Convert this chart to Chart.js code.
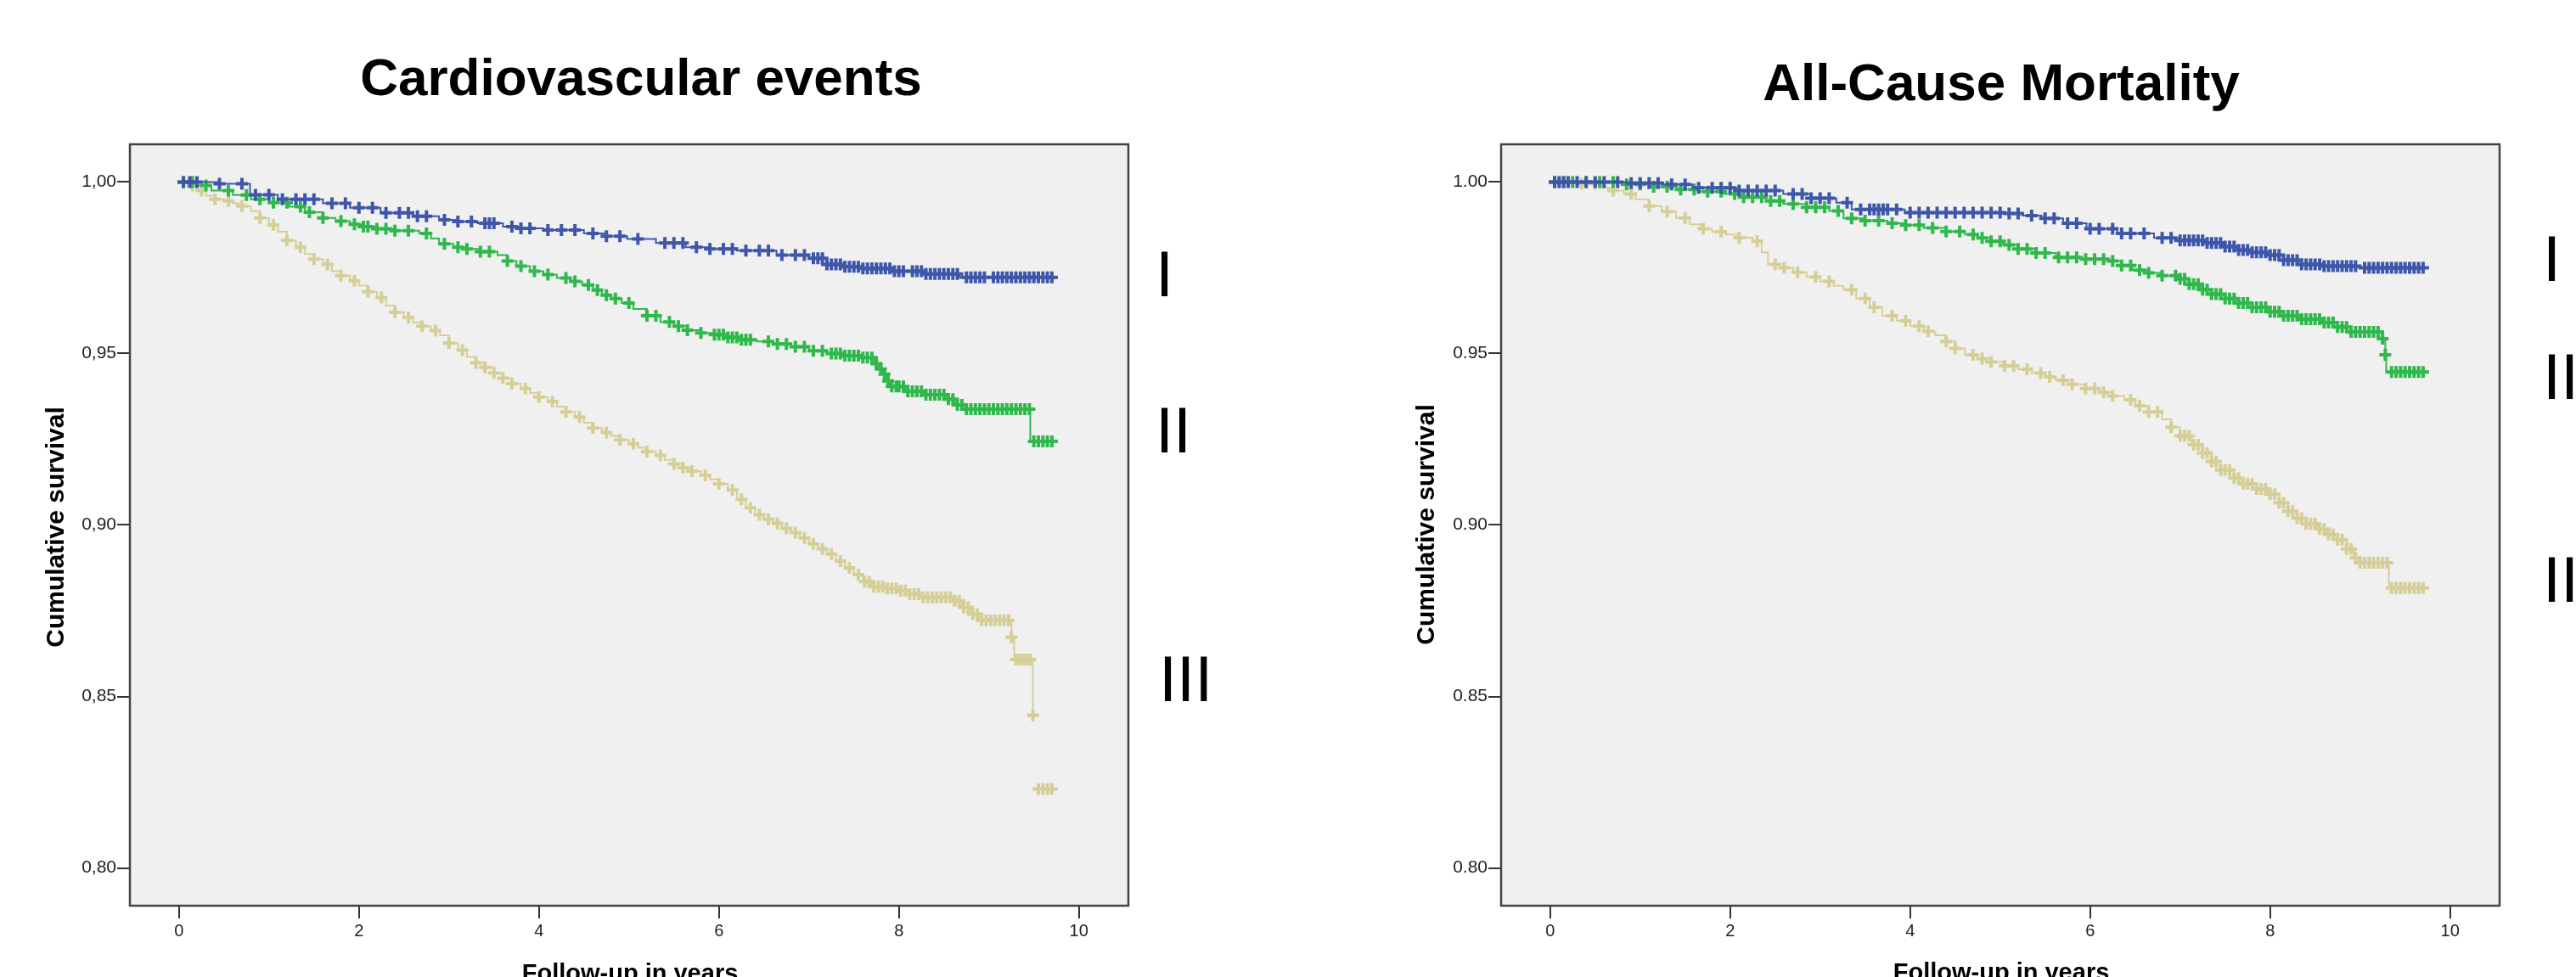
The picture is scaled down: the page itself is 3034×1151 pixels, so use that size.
<!DOCTYPE html>
<html>
<head>
<meta charset="utf-8">
<script src="https://cdn.jsdelivr.net/npm/chart.js@4.4.1/dist/chart.umd.min.js"></script>
<style>
  html, body { margin: 0; padding: 0; background: #fff; }
  body { width: 3034px; height: 1151px; position: relative; overflow: hidden; }
  canvas { position: absolute; top: 0; }
  #cvChart { left: 0; }
  #mortChart { left: 1517px; }
</style>
</head>
<body>
<canvas id="cvChart" width="1517" height="1151"></canvas>
<canvas id="mortChart" width="1517" height="1151"></canvas>
<script>
const xTicks = [0, 2, 4, 6, 8, 10];
const yTicks = [0.80, 0.85, 0.90, 0.95, 1.00];
const groupNames = ["I", "II", "III"];
const groupColors = ["#3e57aa", "#2fb84b", "#d5cf97"];

// Cardiovascular events - step points (time, cumulative survival)
const cvTimesI = [0, 0.43, 0.79, 1.1, 1.6, 1.9, 2.24, 2.6, 2.89, 3.1, 3.32, 3.6, 3.8, 4.05, 4.5, 4.75, 4.98, 5.3, 5.63, 5.9, 6.2, 6.64, 7.0, 7.2, 7.37, 7.6, 7.94, 8.3, 8.67, 9.73];
const cvSurvI = [1, 0.9995, 0.9963, 0.995, 0.9938, 0.9925, 0.991, 0.99, 0.989, 0.9885, 0.988, 0.987, 0.9865, 0.986, 0.985, 0.9842, 0.9834, 0.9822, 0.981, 0.9805, 0.98, 0.9787, 0.9778, 0.976, 0.9753, 0.9748, 0.974, 0.9732, 0.9722, 0.9722];
const cvTimesII = [0, 0.2, 0.36, 0.6, 0.8, 1.0, 1.23, 1.4, 1.6, 1.74, 1.9, 2.05, 2.17, 2.4, 2.67, 2.8, 2.89, 3.05, 3.2, 3.35, 3.54, 3.65, 3.75, 3.9, 4.05, 4.2, 4.35, 4.48, 4.6, 4.7, 4.8, 4.92, 5.05, 5.2, 5.35, 5.5, 5.65, 5.8, 5.92, 6.1, 6.25, 6.42, 6.6, 6.8, 7.0, 7.2, 7.4, 7.58, 7.73, 7.78, 7.82, 7.86, 7.9, 8.08, 8.3, 8.52, 8.62, 8.74, 9.46, 9.73];
const cvSurvII = [1, 0.999, 0.9975, 0.9962, 0.995, 0.994, 0.9928, 0.9912, 0.9895, 0.9886, 0.9877, 0.987, 0.9864, 0.9858, 0.985, 0.9835, 0.982, 0.981, 0.9805, 0.9797, 0.9787, 0.977, 0.9755, 0.974, 0.973, 0.972, 0.971, 0.97, 0.9685, 0.967, 0.966, 0.9647, 0.963, 0.961, 0.9592, 0.958, 0.9568, 0.956, 0.9555, 0.9547, 0.954, 0.9535, 0.9528, 0.952, 0.9508, 0.95, 0.9494, 0.9488, 0.947, 0.9455, 0.944, 0.942, 0.9404, 0.939, 0.938, 0.9367, 0.935, 0.9338, 0.9244, 0.9244];
const cvTimesIII = [0, 0.1, 0.2, 0.3, 0.4, 0.5, 0.6, 0.7, 0.8, 0.9, 1.0, 1.1, 1.2, 1.3, 1.4, 1.5, 1.6, 1.7, 1.8, 1.9, 2.0, 2.1, 2.2, 2.3, 2.4, 2.5, 2.6, 2.7, 2.8, 2.9, 3.0, 3.1, 3.2, 3.3, 3.4, 3.5, 3.6, 3.7, 3.8, 3.9, 4.0, 4.1, 4.2, 4.3, 4.4, 4.5, 4.6, 4.7, 4.8, 4.9, 5.0, 5.1, 5.2, 5.3, 5.4, 5.5, 5.6, 5.7, 5.8, 5.9, 6.0, 6.1, 6.2, 6.3, 6.4, 6.5, 6.6, 6.7, 6.8, 6.9, 7.0, 7.1, 7.2, 7.3, 7.4, 7.5, 7.6, 7.7, 7.85, 8.02, 8.12, 8.24, 8.6, 8.7, 8.8, 8.89, 9.25, 9.28, 9.49, 9.5, 9.52, 9.73];
const cvSurvIII = [1, 0.999, 0.9975, 0.996, 0.995, 0.9945, 0.9938, 0.993, 0.9915, 0.9895, 0.9875, 0.9855, 0.983, 0.981, 0.979, 0.9775, 0.976, 0.974, 0.9727, 0.9712, 0.9698, 0.968, 0.9663, 0.964, 0.962, 0.9605, 0.959, 0.958, 0.9567, 0.9553, 0.953, 0.951, 0.949, 0.9473, 0.946, 0.9443, 0.9428, 0.9412, 0.9398, 0.9385, 0.9373, 0.936, 0.9345, 0.933, 0.9315, 0.9298, 0.9283, 0.927, 0.926, 0.9248, 0.9237, 0.9225, 0.9214, 0.9203, 0.919, 0.9178, 0.9167, 0.9157, 0.9145, 0.9133, 0.912, 0.9102, 0.9075, 0.905, 0.903, 0.9017, 0.9005, 0.899, 0.8978, 0.8962, 0.8945, 0.893, 0.8915, 0.8895, 0.8875, 0.8855, 0.8835, 0.882, 0.8815, 0.8809, 0.8798, 0.8789, 0.8779, 0.876, 0.874, 0.8722, 0.8673, 0.8608, 0.8445, null, 0.823, 0.823];

// Cardiovascular events - censored times
const cvCensI = [0.05, 0.12, 0.2, 0.45, 0.7, 0.85, 1.0, 1.15, 1.3, 1.4, 1.5, 1.7, 1.85, 2.0, 2.15, 2.3, 2.45, 2.55, 2.65, 2.75, 2.95, 3.1, 3.25, 3.4, 3.45, 3.5, 3.7, 3.8, 3.9, 4.1, 4.25, 4.4, 4.6, 4.75, 4.9, 5.1, 5.4, 5.5, 5.6, 5.75, 5.9, 6.05, 6.15, 6.3, 6.45, 6.55, 6.7, 6.85, 6.95,
  7.05, 7.1, 7.15, 7.2, 7.25, 7.3, 7.35, 7.4, 7.45, 7.5, 7.55, 7.6, 7.65, 7.7, 7.75, 7.8, 7.85, 7.9, 7.95, 8.0, 8.05, 8.15, 8.2, 8.25, 8.3, 8.35, 8.4, 8.45, 8.5, 8.55, 8.6, 8.65, 8.75, 8.8, 8.85, 8.9, 8.95, 9.05, 9.1, 9.15, 9.2, 9.25, 9.3, 9.35, 9.4, 9.45, 9.5, 9.55, 9.6, 9.65, 9.7];
const cvCensII = [0.05, 0.15, 0.3, 0.55, 0.75, 0.9, 1.05, 1.2, 1.35, 1.45, 1.6, 1.8, 1.95, 2.05, 2.1, 2.2, 2.3, 2.4, 2.55, 2.75, 2.95, 3.1, 3.2, 3.35, 3.45, 3.65, 3.8, 3.95, 4.1, 4.3, 4.4, 4.55, 4.65, 4.75, 4.85, 5.0, 5.2, 5.3, 5.45, 5.55, 5.65, 5.8, 5.95, 6.0, 6.05, 6.1, 6.15, 6.2, 6.25, 6.3, 6.35, 6.55, 6.65, 6.75, 6.85, 6.95, 7.05, 7.15, 7.25, 7.3, 7.35, 7.4, 7.45, 7.5, 7.55, 7.6, 7.65, 7.7, 7.75, 7.8, 7.84, 7.88,
  7.92, 7.97, 8.0, 8.05, 8.1, 8.15, 8.2, 8.25, 8.3, 8.35, 8.4, 8.45, 8.5, 8.55, 8.6, 8.65, 8.7, 8.75, 8.8, 8.85, 8.9, 8.95, 9.0, 9.05, 9.1, 9.15, 9.2, 9.25, 9.3, 9.35, 9.4, 9.45, 9.5, 9.55, 9.6, 9.65, 9.7];
const cvCensIII = [0.05, 0.15, 0.25, 0.4, 0.55, 0.7, 0.9, 1.05, 1.2, 1.35, 1.5, 1.65, 1.8, 1.95, 2.1, 2.25, 2.4, 2.55, 2.7, 2.85, 3.0, 3.15, 3.3, 3.4, 3.5, 3.6, 3.7, 3.85, 4.0, 4.15, 4.3, 4.45, 4.6, 4.75, 4.9, 5.05, 5.2, 5.35, 5.5, 5.6, 5.7, 5.85, 6.0, 6.15, 6.25, 6.35, 6.45, 6.55, 6.65, 6.75, 6.85, 6.95, 7.05, 7.15, 7.25, 7.35, 7.45, 7.55,
  7.62, 7.67, 7.72, 7.77, 7.82, 7.87, 7.92, 7.97, 8.02, 8.07, 8.12, 8.17, 8.22, 8.27, 8.32, 8.37, 8.42, 8.47, 8.52, 8.57, 8.62, 8.67, 8.72, 8.77, 8.82, 8.87, 8.92, 8.97, 9.02, 9.07, 9.12, 9.17, 9.22, 9.25, 9.3, 9.34, 9.38, 9.42, 9.46, 9.49, 9.55, 9.6, 9.65, 9.7];

// All-cause mortality - step points
const mortTimesI = [0, 0.9, 1.24, 1.58, 2.1, 2.59, 2.9, 3.18, 3.35, 3.94, 5.03, 5.25, 5.46, 5.7, 5.96, 6.3, 6.71, 7.0, 7.3, 7.47, 7.64, 7.8, 7.97, 8.15, 8.31, 8.6, 8.99, 9.7];
const mortSurvI = [1, 0.9997, 0.9993, 0.9983, 0.9975, 0.9965, 0.9953, 0.994, 0.992, 0.9911, 0.9908, 0.9902, 0.9894, 0.988, 0.9864, 0.985, 0.9837, 0.983, 0.9822, 0.9812, 0.9802, 0.9795, 0.9787, 0.9772, 0.976, 0.9755, 0.975, 0.975];
const mortTimesII = [0, 0.8, 1.1, 1.41, 1.65, 1.92, 2.15, 2.4, 2.59, 2.85, 3.1, 3.26, 3.5, 3.75, 3.94, 4.15, 4.4, 4.61, 4.75, 4.9, 5.03, 5.2, 5.4, 5.62, 5.9, 6.21, 6.35, 6.47, 6.65, 6.8, 6.97, 7.1, 7.22, 7.35, 7.5, 7.64, 7.8, 7.97, 8.14, 8.35, 8.57, 8.75, 8.9, 9.24, 9.28, 9.29, 9.7];
const mortSurvII = [1, 0.9993, 0.9986, 0.9978, 0.9972, 0.9965, 0.9956, 0.9945, 0.9936, 0.9926, 0.9916, 0.9894, 0.9887, 0.988, 0.9874, 0.9866, 0.9856, 0.9847, 0.9837, 0.9827, 0.9817, 0.9805, 0.9793, 0.978, 0.9775, 0.977, 0.9757, 0.9743, 0.9735, 0.9727, 0.9718, 0.9702, 0.9686, 0.9673, 0.966, 0.9647, 0.9635, 0.9622, 0.961, 0.96, 0.959, 0.9577, 0.9563, 0.9543, 0.9496, 0.9446, 0.9446];
const mortTimesIII = [0, 0.3, 0.57, 0.7, 0.82, 0.95, 1.1, 1.24, 1.4, 1.55, 1.67, 1.8, 1.95, 2.1, 2.25, 2.35, 2.42, 2.55, 2.7, 2.85, 3.0, 3.15, 3.26, 3.4, 3.55, 3.69, 3.85, 4.0, 4.15, 4.28, 4.4, 4.5, 4.61, 4.75, 4.9, 5.05, 5.2, 5.35, 5.5, 5.62, 5.8, 5.95, 6.1, 6.25, 6.38, 6.5, 6.65, 6.8, 6.9, 7.0, 7.13, 7.25, 7.35, 7.45, 7.56, 7.7, 7.85, 7.97, 8.1, 8.2, 8.3, 8.4, 8.52, 8.63, 8.74, 8.85, 8.93, 8.99, 9.32, 9.7];
const mortSurvIII = [1, 0.9995, 0.9983, 0.9975, 0.9965, 0.995, 0.993, 0.9914, 0.9895, 0.9877, 0.9864, 0.9855, 0.9847, 0.9838, 0.9827, 0.9795, 0.976, 0.975, 0.9737, 0.9723, 0.971, 0.9697, 0.9686, 0.966, 0.9635, 0.961, 0.9595, 0.958, 0.9565, 0.9553, 0.9535, 0.9515, 0.9496, 0.9485, 0.9475, 0.9464, 0.9454, 0.9443, 0.9432, 0.9422, 0.941, 0.9398, 0.9387, 0.9376, 0.9365, 0.9348, 0.933, 0.9308, 0.9285, 0.926, 0.9234, 0.921, 0.9185, 0.916, 0.9137, 0.912, 0.9105, 0.909, 0.9065, 0.904, 0.902, 0.9004, 0.8988, 0.8972, 0.8957, 0.893, 0.8905, 0.889, 0.8816, 0.8816];

// All-cause mortality - censored times
const mortCensI = [0.05, 0.1, 0.15, 0.2, 0.3, 0.4, 0.5, 0.6, 0.75, 0.9, 1.0, 1.1, 1.2, 1.35, 1.5, 1.65, 1.8, 1.9, 2.0, 2.1, 2.2, 2.3, 2.4, 2.5, 2.7, 2.8, 2.9, 3.0, 3.1, 3.3, 3.45, 3.55, 3.6, 3.65, 3.7, 3.75, 3.85, 4.0, 4.1, 4.2, 4.3, 4.4, 4.5, 4.6, 4.7, 4.8, 4.9, 5.0, 5.1, 5.2, 5.35, 5.5, 5.6, 5.75, 5.85, 6.0, 6.1, 6.25, 6.35, 6.45, 6.6, 6.8, 6.9,
  7.0, 7.05, 7.1, 7.15, 7.2, 7.25, 7.3, 7.35, 7.4, 7.45, 7.5, 7.55, 7.6, 7.65, 7.7, 7.75, 7.8, 7.85, 7.9, 7.95, 8.0, 8.05, 8.1, 8.15, 8.2, 8.25, 8.3, 8.35, 8.4, 8.45, 8.5, 8.55, 8.6, 8.65, 8.7, 8.75, 8.8, 8.85, 8.9, 8.95, 9.05, 9.1, 9.15, 9.2, 9.25, 9.3, 9.35, 9.4, 9.45, 9.5, 9.55, 9.6, 9.65, 9.7];
const mortCensII = [0.05, 0.15, 0.25, 0.4, 0.55, 0.7, 0.85, 1.0, 1.15, 1.3, 1.45, 1.6, 1.75, 1.9, 2.05, 2.15, 2.25, 2.35, 2.45, 2.55, 2.7, 2.85, 2.95, 3.05, 3.2, 3.35, 3.5, 3.65, 3.8, 3.95, 4.1, 4.25, 4.4, 4.55, 4.7, 4.8, 4.9, 5.0, 5.1, 5.2, 5.3, 5.4, 5.5, 5.65, 5.75, 5.85, 5.95, 6.05, 6.15, 6.25, 6.35, 6.45, 6.55, 6.65, 6.8, 6.95,
  7.0, 7.05, 7.1, 7.15, 7.2, 7.25, 7.3, 7.35, 7.4, 7.45, 7.5, 7.55, 7.6, 7.65, 7.7, 7.75, 7.8, 7.85, 7.9, 7.95, 8.0, 8.05, 8.1, 8.15, 8.2, 8.25, 8.3, 8.35, 8.4, 8.45, 8.5, 8.55, 8.6, 8.65, 8.7, 8.75, 8.8, 8.85, 8.9, 8.95, 9.0, 9.05, 9.1, 9.15, 9.2, 9.25, 9.28, 9.35, 9.4, 9.45, 9.5, 9.55, 9.6, 9.65, 9.7];
const mortCensIII = [0.05, 0.1, 0.2, 0.35, 0.5, 0.7, 0.9, 1.1, 1.3, 1.5, 1.7, 1.9, 2.1, 2.3, 2.5, 2.6, 2.75, 2.95, 3.1, 3.35, 3.5, 3.6, 3.8, 3.95, 4.1, 4.2, 4.4, 4.5, 4.7, 4.8, 4.9, 5.05, 5.15, 5.3, 5.45, 5.55, 5.7, 5.8, 5.95, 6.05, 6.15, 6.25, 6.45, 6.55, 6.65, 6.75, 6.9,
  7.0, 7.05, 7.1, 7.15, 7.2, 7.25, 7.3, 7.35, 7.4, 7.45, 7.5, 7.55, 7.6, 7.65, 7.7, 7.75, 7.8, 7.85, 7.9, 7.95, 8.0, 8.05, 8.1, 8.15, 8.2, 8.25, 8.3, 8.35, 8.4, 8.45, 8.5, 8.55, 8.6, 8.65, 8.7, 8.75, 8.8, 8.85, 8.9, 8.95, 9.0, 9.05, 9.1, 9.15, 9.2, 9.25, 9.3, 9.35, 9.4, 9.45, 9.5, 9.55, 9.6, 9.65, 9.7];

const FONT = '"Liberation Sans", Arial, sans-serif';

// survival value of the step curve at time t
function survAt(times, surv, t) {
  let s = surv[0];
  for (let i = 0; i < times.length; i++) {
    if (times[i] <= t + 1e-9 && surv[i] !== null) s = surv[i];
  }
  return s;
}

function buildDatasets(curves) {
  const sets = [];
  curves.forEach((c, i) => {
    sets.push({
      type: "line",
      label: groupNames[i],
      data: c.times.map((t, k) => ({ x: t, y: c.surv[k] })),
      borderColor: groupColors[i],
      borderWidth: 2,
      stepped: "before",
      pointRadius: 0,
      fill: false,
      spanGaps: false,
    });
    sets.push({
      type: "scatter",
      label: groupNames[i] + " censored",
      data: c.cens.map((t) => ({ x: t, y: survAt(c.times, c.surv, t) })),
      pointStyle: "cross",
      pointRadius: 7,
      borderWidth: 4,
      borderColor: groupColors[i],
      backgroundColor: groupColors[i],
    });
  });
  return sets;
}

const plotDecor = {
  id: "plotDecor",
  beforeDraw(chart, args, opts) {
    const a = chart.chartArea;
    const ctx = chart.ctx;
    ctx.save();
    ctx.fillStyle = "#f0f0f0";
    ctx.fillRect(a.left, a.top, a.right - a.left, a.bottom - a.top);
    ctx.restore();
  },
  afterDraw(chart, args, opts) {
    const a = chart.chartArea;
    const ctx = chart.ctx;
    ctx.save();
    ctx.strokeStyle = "#444";
    ctx.lineWidth = 2.5;
    ctx.strokeRect(a.left, a.top, a.right - a.left, a.bottom - a.top);

    ctx.fillStyle = "#000";
    ctx.textBaseline = "alphabetic";
    ctx.textAlign = "center";
    ctx.font = "bold 62px " + FONT;
    ctx.fillText(opts.title, opts.titleX, opts.titleY);

    ctx.font = "bold 29px " + FONT;
    ctx.fillText("Follow-up in years", opts.xTitleX, opts.xTitleY);

    ctx.save();
    ctx.translate(opts.yTitleX, opts.yTitleY);
    ctx.rotate(-Math.PI / 2);
    ctx.font = "bold 30px " + FONT;
    ctx.fillText("Cumulative survival", 0, 0);
    ctx.restore();

    ctx.textAlign = "left";
    ctx.font = "76px " + FONT;
    groupNames.forEach((g, i) => {
      ctx.fillText(g, opts.numX[i], opts.numY[i]);
    });
    ctx.restore();
  },
};

function makeChart(id, curves, decimalMark, pad, yAxisWidth, decor) {
  return new Chart(document.getElementById(id), {
    data: { datasets: buildDatasets(curves) },
    plugins: [plotDecor],
    options: {
      responsive: false,
      animation: false,
      events: [],
      layout: { padding: pad },
      plugins: {
        legend: { display: false },
        title: { display: false },
        tooltip: { enabled: false },
        plotDecor: decor,
      },
      scales: {
        x: {
          type: "linear",
          min: -0.545,
          max: 10.55,
          afterBuildTicks: (s) => { s.ticks = xTicks.map((v) => ({ value: v })); },
          afterFit: (s) => { s.height = 1151 - 1067; },
          border: { display: false },
          grid: { drawOnChartArea: false, drawTicks: true, tickLength: 15, color: "#333", lineWidth: 2 },
          ticks: { padding: 3, color: "#222", font: { family: FONT, size: 20 }, maxRotation: 0 },
        },
        y: {
          type: "linear",
          min: 0.789,
          max: 1.011,
          afterBuildTicks: (s) => { s.ticks = yTicks.map((v) => ({ value: v })); },
          afterFit: (s) => { s.width = yAxisWidth; },
          border: { display: false },
          grid: { drawOnChartArea: false, drawTicks: true, tickLength: 15, color: "#333", lineWidth: 2 },
          ticks: {
            padding: 1,
            color: "#222",
            font: { family: FONT, size: 21 },
            callback: (v) => v.toFixed(2).replace(".", decimalMark),
          },
        },
      },
    },
  });
}

makeChart("cvChart", [
  { times: cvTimesI, surv: cvSurvI, cens: cvCensI },
  { times: cvTimesII, surv: cvSurvII, cens: cvCensII },
  { times: cvTimesIII, surv: cvSurvIII, cens: cvCensIII },
], ",", { left: 0, right: 188, top: 170, bottom: 0 }, 153, {
  title: "Cardiovascular events", titleX: 755, titleY: 112,
  xTitleX: 742, xTitleY: 1156,
  yTitleX: 75, yTitleY: 621,
  numX: [1361, 1361, 1365], numY: [349, 533, 826],
});

makeChart("mortChart", [
  { times: mortTimesI, surv: mortSurvI, cens: mortCensI },
  { times: mortTimesII, surv: mortSurvII, cens: mortCensII },
  { times: mortTimesIII, surv: mortSurvIII, cens: mortCensIII },
], ".", { left: 0, right: 90, top: 170, bottom: 0 }, 251, {
  title: "All-Cause Mortality", titleX: 840, titleY: 118,
  xTitleX: 840, xTitleY: 1155,
  yTitleX: 172, yTitleY: 618,
  numX: [1478, 1478, 1478], numY: [331, 470, 709],
});
</script>
</body>
</html>
